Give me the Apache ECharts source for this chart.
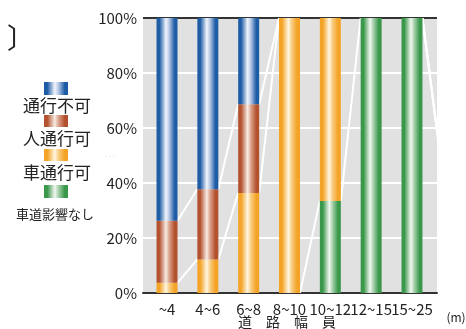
<!DOCTYPE html>
<html><head><meta charset="utf-8">
<script src="https://cdn.jsdelivr.net/npm/echarts@6/dist/echarts.min.js"></script>
<style>html,body{margin:0;padding:0;background:#fff}#c{width:466px;height:329px}</style>
</head><body><div id="c"></div>
<script>
// Categories (road width, m). The 8th lies beyond the clipped plot edge (only its connector is visible).
const categories = ['~4', '4~6', '6~8', '8~10', '10~12', '12~15', '15~25', '25~'];
const greenVals  = [0, 0, 0, 0, 33.5, 100, 100, 44];      // 車道影響なし
const orangeVals = [3.7, 12.2, 36.4, 100, 66.5, 0, 0, 0];  // 車通行可
const redVals    = [22.6, 25.5, 32.2, 0, 0, 0, 0, 0];      // 人通行可
const blueVals   = [73.7, 62.3, 31.4, 0, 0, 0, 0, 56];     // 通行不可
const yTicks = [0, 20, 40, 60, 80, 100];
const visibleCount = 7;

const FONT = '"Noto Sans CJK JP", "Noto Sans", sans-serif';
function grad(dark, light, mid) {
  return { type: 'linear', x: 0, y: 0, x2: 1, y2: 0, colorStops: [
    { offset: 0, color: dark }, { offset: 0.14, color: dark },
    { offset: 0.45, color: light }, { offset: 0.6, color: mid },
    { offset: 0.86, color: dark }, { offset: 1, color: dark } ] };
}
const cBlue = grad('#1e5ca6', '#f2f5fb', '#b7c8e4');
const cRed = grad('#b4522f', '#f8ece4', '#dca58f');
const cOrange = grad('#f4a326', '#fff6e2', '#f8cf86');
const cGreen = grad('#3a984b', '#f3f8f1', '#a9d2ae');

// connectors between stacked tops of adjacent bars
const stacks = [greenVals, orangeVals, redVals];
const conn = [];
for (let i = 0; i < categories.length - 1; i++) {
  let a = 0, b = 0;
  for (const s of stacks) {
    a += s[i]; b += s[i + 1];
    if (Math.abs(a - b) > 0.01) conn.push([i, a, i + 1, b]);
  }
}
const HALF = 10.5;

const chart = echarts.init(document.getElementById('c'), null, { renderer: 'canvas' });
const barCommon = { type: 'bar', stack: 'all', barWidth: 21, clip: true, z: 3, xAxisIndex: 0, yAxisIndex: 0 };
chart.setOption({
  animation: false,
  textStyle: { fontFamily: FONT },
  grid: [
    { left: 146.6, right: 33.6, top: 18, bottom: 36, z: 3 },
    { left: 143, right: 29, top: 18, bottom: 36, show: true, backgroundColor: '#e1e1e1', borderWidth: 0, z: -2 }
  ],
  xAxis: [
    { type: 'category', gridIndex: 0, data: categories, max: visibleCount - 1, boundaryGap: true,
      axisLine: { show: false }, axisTick: { show: false }, splitLine: { show: false },
      axisLabel: { interval: 0, hideOverlap: false, color: '#222', fontSize: 15, margin: 9, fontFamily: FONT } },
    { type: 'value', gridIndex: 1, min: 0, max: 1, z: 1,
      axisLine: { show: true, lineStyle: { color: '#333', width: 2 } },
      axisTick: { show: false }, axisLabel: { show: false }, splitLine: { show: false } }
  ],
  yAxis: [
    { type: 'value', gridIndex: 0, min: 0, max: 100, show: false },
    { type: 'value', gridIndex: 1, min: 0, max: 100, interval: 20, z: 1,
      axisLine: { show: false }, axisTick: { show: false },
      splitLine: { show: true, lineStyle: { color: ['#333', '#fff', '#fff', '#fff', '#fff', '#333'], width: 2 } },
      axisLabel: { formatter: '{value}%', color: '#222', fontSize: 15, margin: 6, fontFamily: FONT } }
  ],
  series: [
    Object.assign({ name: '車道影響なし', data: greenVals, itemStyle: { color: cGreen } }, barCommon),
    Object.assign({ name: '車通行可', data: orangeVals, itemStyle: { color: cOrange } }, barCommon),
    Object.assign({ name: '人通行可', data: redVals, itemStyle: { color: cRed } }, barCommon),
    Object.assign({ name: '通行不可', data: blueVals, itemStyle: { color: cBlue } }, barCommon),
    {
      type: 'custom', z: 2, xAxisIndex: 0, yAxisIndex: 0, data: conn, encode: { x: [0, 2], y: [1, 3] },
      renderItem: function (params, api) {
        const p1 = api.coord([api.value(0), api.value(1)]);
        const p2 = api.coord([api.value(2), api.value(3)]);
        const cs = params.coordSys;
        return {
          type: 'line',
          shape: { x1: p1[0] + HALF, y1: p1[1], x2: p2[0] - HALF, y2: p2[1] },
          style: { stroke: '#ffffff', lineWidth: 2 },
          clipPath: { type: 'rect', shape: { x: cs.x - 3.6, y: cs.y, width: cs.width + 8.2, height: cs.height } }
        };
      }
    }
  ],
  graphic: [
    { type: 'text', left: 7, top: 24, style: { text: '〕', fill: '#222', font: '28px ' + FONT } },
    { type: 'rect', shape: { x: 44, y: 82, width: 24, height: 13 }, style: { fill: cBlue } },
    { type: 'text', x: 57, y: 106, style: { text: '通行不可', fill: '#222', font: '17px ' + FONT, align: 'center', verticalAlign: 'middle' } },
    { type: 'rect', shape: { x: 44, y: 115, width: 24, height: 12 }, style: { fill: cRed } },
    { type: 'text', x: 57, y: 139, style: { text: '人通行可', fill: '#222', font: '17px ' + FONT, align: 'center', verticalAlign: 'middle' } },
    { type: 'rect', shape: { x: 44, y: 149, width: 24, height: 12 }, style: { fill: cOrange } },
    { type: 'text', x: 57, y: 173, style: { text: '車通行可', fill: '#222', font: '17px ' + FONT, align: 'center', verticalAlign: 'middle' } },
    { type: 'rect', shape: { x: 44, y: 185, width: 24, height: 13 }, style: { fill: cGreen } },
    { type: 'text', x: 55, y: 214, style: { text: '車道影響なし', fill: '#222', font: '13px ' + FONT, align: 'center', verticalAlign: 'middle' } },
    { type: 'text', x: 110, y: 155, style: { text: '- - -', fill: '#dddddd', font: '7px ' + FONT, align: 'center', verticalAlign: 'middle' } },
    { type: 'text', x: 287, y: 322, style: { text: '道　路　幅　員', fill: '#222', font: '14px ' + FONT, align: 'center', verticalAlign: 'middle' } },
    { type: 'text', x: 456, y: 317, style: { text: '(m)', fill: '#222', font: '12px ' + FONT, align: 'center', verticalAlign: 'middle' } }
  ]
});
</script></body></html>
